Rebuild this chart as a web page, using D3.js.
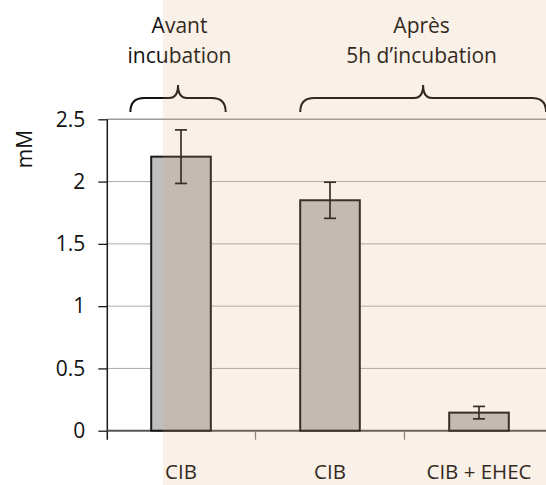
<!DOCTYPE html>
<html>
<head>
<meta charset="utf-8">
<script src="https://cdn.jsdelivr.net/npm/d3@7"></script>
<style>
  body { margin: 0; background: #fff; }
  svg { display: block; font-family: 'Open Sans', sans-serif; }
</style>
</head>
<body>
<div id="chart"></div>
<script>
// data
var categories = ['CIB', 'CIB', 'CIB + EHEC'];
var values = [2.2, 1.85, 0.145];
var errors = [0.215, 0.145, 0.05];
var yTicks = [0, 0.5, 1, 1.5, 2, 2.5];
var groupLabels = [['Avant', 'incubation'], ['Après', '5h d\u2019incubation']];
var groupSpans = [[0.16, 0.8], [1.3, 2.95]];   // in band units
var yLabel = 'mM';

var width = 546;
var height = 485;

var svg = d3.select('#chart')
  .append('svg')
  .attr('width', width)
  .attr('height', height);

var x = d3.scaleBand()
  .domain(d3.range(categories.length))
  .range([106.5, 553.5])
  .paddingInner(0.6)
  .paddingOuter(0.3);

var y = d3.scaleLinear().domain([0, 2.5]).range([430.7, 119.3]);

var bw = x.bandwidth();
var band = d3.scaleLinear().domain([0, categories.length]).range(x.range());
var axisX = 107.3;

// gridlines
svg.append('g')
  .selectAll('line')
  .data(yTicks.filter((d) => d > 0))
  .enter()
  .append('line')
  .attr('x1', axisX)
  .attr('x2', width)
  .attr('y1', (d) => y(d))
  .attr('y2', (d) => y(d))
  .style('stroke', (d) => d === 2.5 ? '#9a9a9a' : '#ababab')
  .style('stroke-width', (d) => d === 2.5 ? 1.6 : 1);

// y axis
var yAxis = d3.axisLeft(y).tickValues(yTicks).tickSize(9).tickPadding(13)
  .tickFormat(d3.format('~g'));
var gy = svg.append('g')
  .attr('transform', 'translate(' + axisX + ',0)')
  .call(yAxis);
gy.select('.domain').remove();
gy.selectAll('.tick line').style('stroke', '#1a1a1a').style('stroke-width', 1.3);
gy.selectAll('.tick text')
  .style('font-family', "'Open Sans', sans-serif")
  .style('font-size', '21px')
  .style('fill', '#111');
gy.append('line')
  .attr('y1', y(2.5))
  .attr('y2', y(0) + 9)
  .style('stroke', '#1a1a1a')
  .style('stroke-width', 1.5);

// x axis
svg.append('line')
  .attr('x1', axisX)
  .attr('x2', width)
  .attr('y1', y(0))
  .attr('y2', y(0))
  .style('stroke', '#555')
  .style('stroke-width', 2);

svg.append('g')
  .selectAll('line')
  .data(d3.range(1, categories.length))
  .enter()
  .append('line')
  .attr('x1', (i) => band(i))
  .attr('x2', (i) => band(i))
  .attr('y1', y(0))
  .attr('y2', y(0) + 9)
  .style('stroke', '#808080')
  .style('stroke-width', 1.3);

svg.append('g')
  .selectAll('text')
  .data(categories)
  .enter()
  .append('text')
  .attr('x', (d, i) => x(i) + bw / 2)
  .attr('y', 479)
  .attr('text-anchor', 'middle')
  .style('font-size', '20.5px')
  .style('fill', '#111')
  .text((d) => d);

// bars
svg.append('g')
  .selectAll('rect')
  .data(values)
  .enter()
  .append('rect')
  .attr('x', (d, i) => x(i))
  .attr('y', (d) => y(d))
  .attr('width', bw)
  .attr('height', (d) => y(0) - y(d))
  .style('fill', '#bfbfbf')
  .style('stroke', '#1a1a1a')
  .style('stroke-width', 2);

// error bars
var eb = svg.append('g')
  .selectAll('g')
  .data(values)
  .enter()
  .append('g')
  .style('stroke', '#1a1a1a')
  .style('stroke-width', 1.7);
eb.append('line')
  .attr('x1', (d, i) => x(i) + bw / 2)
  .attr('x2', (d, i) => x(i) + bw / 2)
  .attr('y1', (d, i) => y(d + errors[i]))
  .attr('y2', (d, i) => y(d - errors[i]));
[1, -1].forEach(function(s) {
  eb.append('line')
    .attr('x1', (d, i) => x(i) + bw / 2 - 6)
    .attr('x2', (d, i) => x(i) + bw / 2 + 6)
    .attr('y1', (d, i) => y(d + s * errors[i]))
    .attr('y2', (d, i) => y(d + s * errors[i]));
});

// y label
svg.append('text')
  .attr('transform', 'translate(24,149) rotate(-90)')
  .attr('text-anchor', 'middle')
  .attr('dominant-baseline', 'central')
  .style('font-size', '21px')
  .style('fill', '#111')
  .text(yLabel);

// braces and group labels
var brace = function(x0, x1) {
  var m = (x0 + x1) / 2;
  return 'M' + x0 + ',112 Q' + x0 + ',98 ' + (x0 + 14) + ',98' +
    ' L' + (m - 9) + ',98 Q' + m + ',98 ' + m + ',85' +
    ' Q' + m + ',98 ' + (m + 9) + ',98' +
    ' L' + (x1 - 14) + ',98 Q' + x1 + ',98 ' + x1 + ',112';
};

groupSpans.forEach(function(s, k) {
  var x0 = band(s[0]);
  var x1 = band(s[1]);
  svg.append('path')
    .attr('d', brace(x0, x1))
    .style('fill', 'none')
    .style('stroke', '#111')
    .style('stroke-width', 2);
  svg.append('g')
    .selectAll('text')
    .data(groupLabels[k])
    .enter()
    .append('text')
    .attr('x', (x0 + x1) / 2 + (k === 0 ? 1.5 : -1.5))
    .attr('y', (d, j) => 33 + j * 29.7)
    .attr('text-anchor', 'middle')
    .style('font-size', '21px')
    .style('fill', '#111')
    .text((d) => d);
});

// peach panel laid over the right part
svg.append('rect')
  .attr('x', 163)
  .attr('y', 0)
  .attr('width', width - 163)
  .attr('height', height)
  .style('fill', 'rgb(217,159,108)')
  .style('opacity', 0.16);
</script>
</body>
</html>
